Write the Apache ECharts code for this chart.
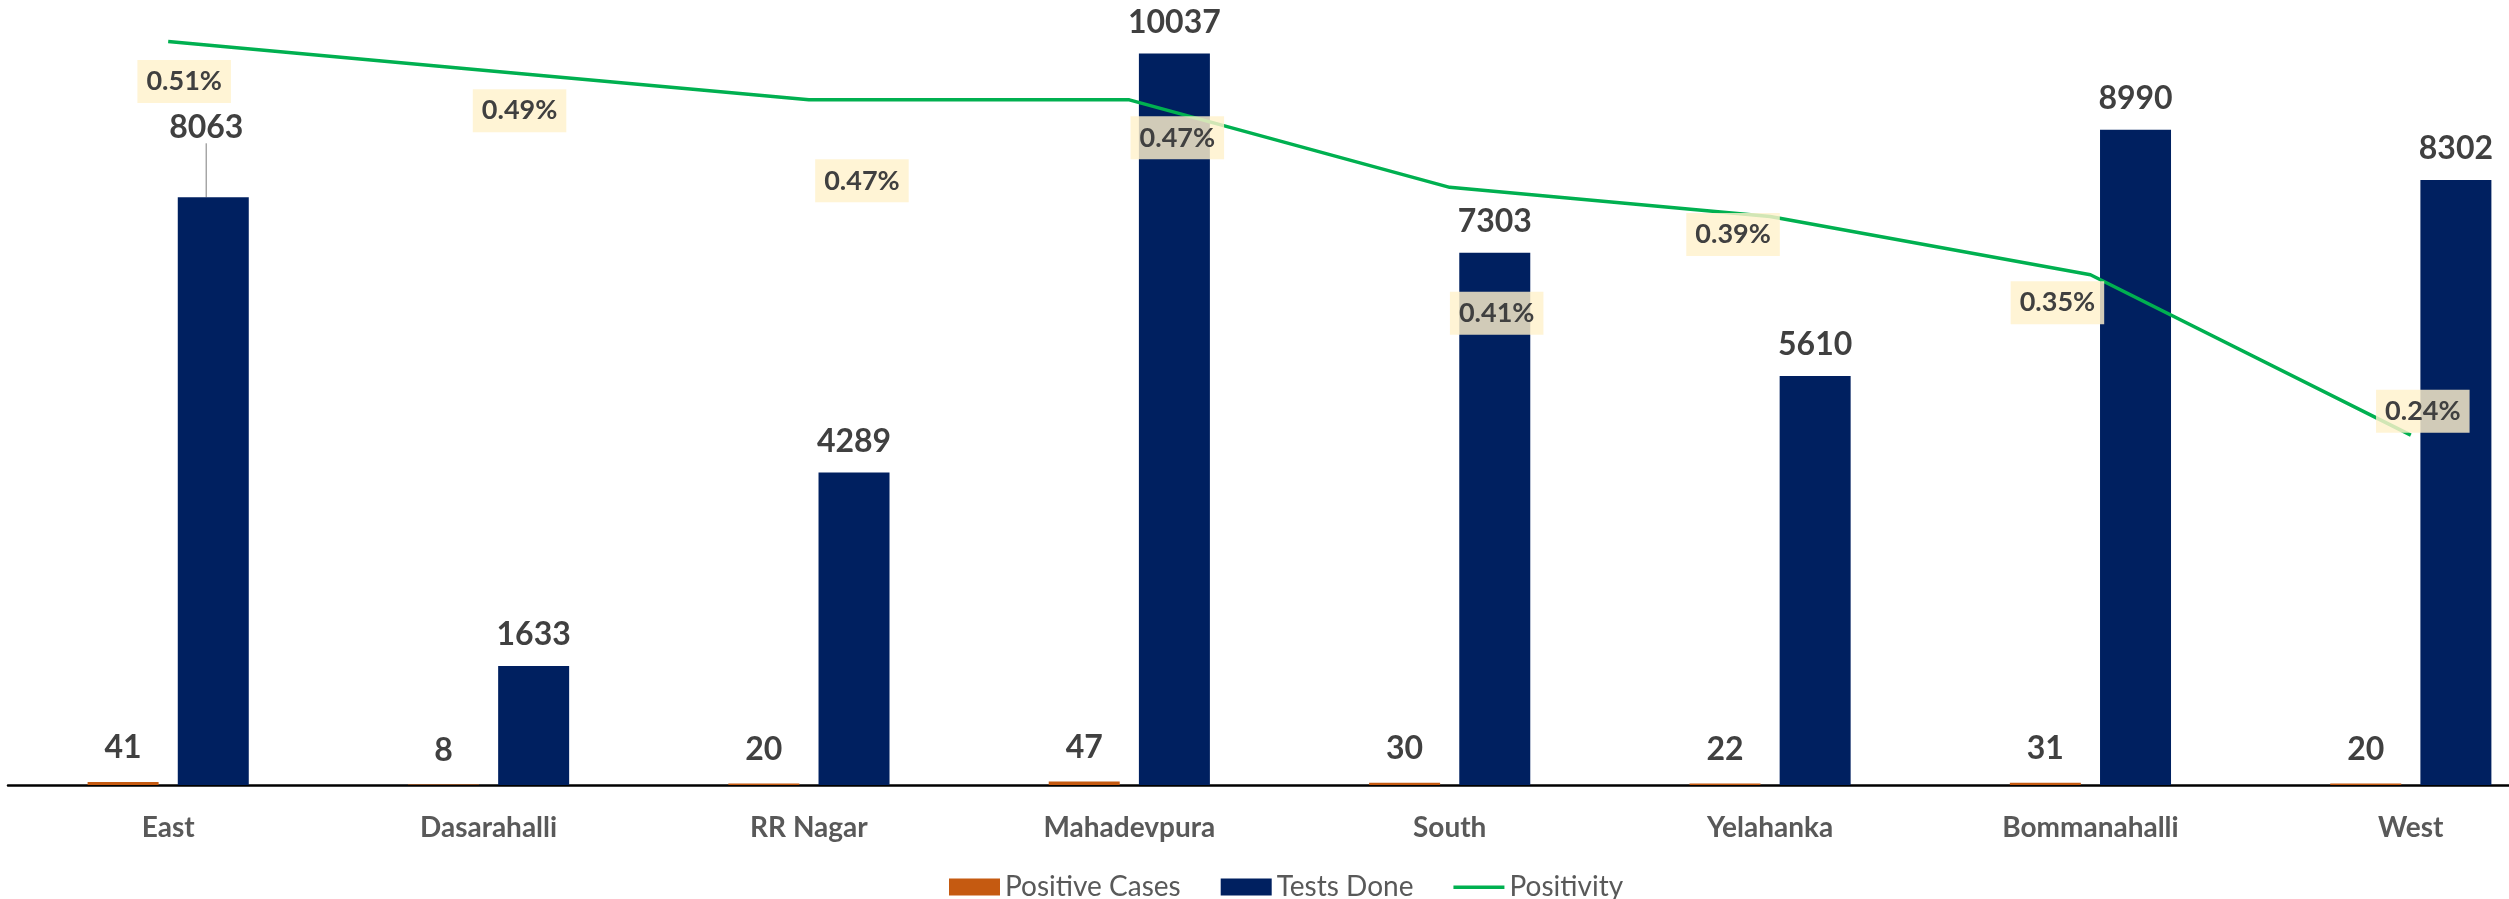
<!DOCTYPE html>
<html>
<head>
<meta charset="utf-8">
<script src="https://cdn.jsdelivr.net/npm/echarts@6/dist/echarts.min.js"></script>
<style>
  html, body { margin: 0; padding: 0; background: #fff; }
  #chart { width: 2509px; height: 899px; }
</style>
</head>
<body>
<div id="chart"></div>
<script>
const districts = ['East', 'Dasarahalli', 'RR Nagar', 'Mahadevpura', 'South', 'Yelahanka', 'Bommanahalli', 'West'];
const positiveCases = [41, 8, 20, 47, 30, 22, 31, 20];
const testsDone = [8063, 1633, 4289, 10037, 7303, 5610, 8990, 8302];
const positivity = [0.51, 0.49, 0.47, 0.47, 0.41, 0.39, 0.35, 0.24];

// where each positivity label sits relative to its point (px)
const positivityLabelOffsets = [[16, 40], [31, 40], [53, 81], [48, 38], [47, 126], [-37, 18], [-33, 28], [12, -24]];

const valueLabel = {
  show: true,
  position: 'top',
  fontFamily: 'Lato',
  fontWeight: 'bold',
  fontSize: 32,
  color: '#404040'
};

const chart = echarts.init(document.getElementById('chart'));

chart.setOption({
  animation: false,
  grid: { left: 8, right: -62, top: 0, bottom: 114, outerBoundsMode: 'none', containLabel: false },
  legend: {
    left: 944,
    top: 868,
    itemWidth: 51,
    itemHeight: 17,
    itemGap: 40,
    textStyle: { color: '#595959', fontFamily: 'Lato', fontSize: 28 },
    data: [
      { name: 'Positive Cases', icon: 'rect' },
      { name: 'Tests Done', icon: 'rect' },
      { name: 'Positivity', icon: 'path://M0,0L0,0M0,7L51,7L51,10.5L0,10.5ZM51,17L51,17' }
    ]
  },
  xAxis: {
    type: 'category',
    data: districts,
    axisLine: { lineStyle: { color: '#000', width: 2.5 } },
    axisTick: { show: false },
    axisLabel: {
      interval: 0,
      margin: 29,
      color: '#595959',
      fontFamily: 'Lato',
      fontWeight: 'bold',
      fontSize: 28
    }
  },
  yAxis: [
    { type: 'value', min: 0, max: 10770, show: false },
    { type: 'value', min: 0, max: 0.5385, show: false }
  ],
  series: [
    {
      name: 'Positive Cases',
      type: 'bar',
      data: positiveCases,
      barWidth: 71,
      barGap: '27%',
      itemStyle: { color: '#C55A11' },
      label: Object.assign({}, valueLabel, { distance: 18 })
    },
    {
      name: 'Tests Done',
      type: 'bar',
      data: testsDone.map((v, i) => i === 0 ? { value: v, labelLine: { show: true } } : v),
      barWidth: 71,
      itemStyle: { color: '#002060' },
      label: Object.assign({}, valueLabel, { distance: 15 }),
      labelLayout: function (p) {
        // East label was dragged up off the bar in the original
        return p.dataIndex === 0 ? { dx: -7, dy: -39 } : {};
      },
      labelLine: { show: false, lineStyle: { color: '#a6a6a6', width: 1.5 } }
    },
    {
      name: 'Positivity',
      type: 'line',
      yAxisIndex: 1,
      z: 5,
      data: positivity.map((v, i) => ({ value: v, label: { offset: positivityLabelOffsets[i] } })),
      symbol: 'circle',
      symbolSize: 0,
      showSymbol: true,
      lineStyle: { color: '#00B050', width: 3.5 },
      itemStyle: { color: '#00B050' },
      label: {
        show: true,
        position: 'inside',
        formatter: p => p.value.toFixed(2) + '%',
        backgroundColor: 'rgba(255,242,204,0.82)',
        padding: [9, 9, 7, 9],
        fontFamily: 'Lato',
        fontWeight: 'bold',
        fontSize: 27,
        color: '#404040'
      }
    }
  ]
});
</script>
</body>
</html>
